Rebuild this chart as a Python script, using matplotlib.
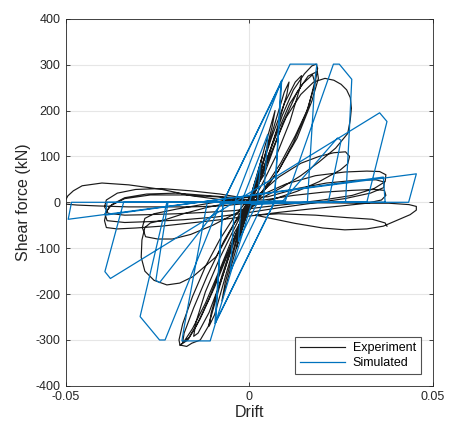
import matplotlib
matplotlib.use("Agg")
import matplotlib.pyplot as plt

plt.rcParams["font.family"] = ["Liberation Sans", "DejaVu Sans"]
plt.rcParams["axes.unicode_minus"] = False

# Experimental hysteresis, one list of (drift, shear force kN) points per cycle
exp_cycle_1 = [(0, 0), (0.0015, 45), (0.0035, 100), (0.0025, 60), (0.0005, 5),
               (-0.0015, -45), (-0.0035, -100), (-0.0025, -60), (-0.0005, -5)]
exp_cycle_2 = [(0.002, 55), (0.0045, 130), (0.007, 200), (0.0062, 165), (0.0035, 80),
               (0.0005, 0), (-0.0025, -70), (-0.005, -140), (-0.0075, -215),
               (-0.0066, -175), (-0.0035, -85), (-0.0005, -5)]
exp_cycle_3 = [(0.003, 70), (0.0065, 160), (0.0095, 240), (0.0108, 262), (0.0102, 235),
               (0.0075, 160), (0.004, 70), (0.001, 10), (-0.003, -65), (-0.0065, -160),
               (-0.0095, -245), (-0.011, -270), (-0.0104, -240), (-0.0075, -160),
               (-0.004, -75), (-0.001, -15)]
exp_cycle_3b = [(0.0025, 55), (0.006, 140), (0.0095, 215), (0.0125, 262), (0.0142, 276),
                (0.0138, 250), (0.011, 175), (0.0075, 105), (0.0035, 40), (0.0, -10),
                (-0.0035, -70), (-0.0075, -165), (-0.011, -240), (-0.014, -285),
                (-0.0152, -292), (-0.0146, -262), (-0.012, -195), (-0.008, -120),
                (-0.004, -55), (-0.0005, 0)]
exp_cycle_4 = [(0.002, 30), (0.0055, 110), (0.009, 190), (0.012, 245), (0.015, 280),
               (0.017, 297), (0.0182, 301), (0.0186, 292), (0.0178, 255), (0.0155, 195),
               (0.012, 130), (0.008, 70), (0.004, 25), (0.0, -10), (-0.004, -65),
               (-0.008, -145), (-0.012, -220), (-0.0155, -275), (-0.0178, -303),
               (-0.0189, -312), (-0.0192, -300), (-0.0182, -265), (-0.0155, -205),
               (-0.012, -140), (-0.008, -80), (-0.004, -30), (0.0, 10)]
exp_cycle_5 = [(0.004, 60), (0.009, 170), (0.013, 240), (0.016, 275), (0.0185, 285),
               (0.0188, 270), (0.017, 220), (0.013, 140), (0.008, 70), (0.003, 15),
               (-0.002, -40), (-0.007, -130), (-0.011, -210), (-0.0145, -270),
               (-0.0168, -300), (-0.0189, -311), (-0.0171, -314), (-0.0157, -307),
               (-0.0134, -300), (-0.0112, -270), (-0.008, -180), (-0.005, -100),
               (-0.002, -30)]
exp_cycle_5b = [(0.0035, 70), (0.0075, 150), (0.011, 215), (0.0145, 258), (0.0172, 278),
                (0.0178, 262), (0.016, 205), (0.0125, 145), (0.0085, 85), (0.004, 30),
                (0.0, -15), (-0.005, -95), (-0.0095, -185), (-0.0135, -255),
                (-0.0165, -295), (-0.0182, -305), (-0.0178, -285), (-0.0152, -230),
                (-0.0115, -160), (-0.007, -85), (-0.003, -30)]
exp_cycle_6 = [(0.002, 30), (0.006, 110), (0.010, 185), (0.014, 235), (0.0175, 262),
               (0.0206, 270), (0.023, 266), (0.025, 257), (0.0265, 245), (0.0275, 228),
               (0.0278, 205), (0.0275, 180), (0.0268, 150), (0.0235, 118), (0.019, 88),
               (0.014, 58), (0.009, 33), (0.004, 12), (0.0, -3), (-0.004, -45),
               (-0.009, -118), (-0.0154, -162), (-0.019, -176), (-0.0225, -180),
               (-0.026, -170), (-0.0285, -150), (-0.0295, -120), (-0.0293, -82),
               (-0.0285, -55), (-0.027, -45), (-0.023, -38), (-0.018, -25),
               (-0.012, -12), (-0.006, -2), (-0.002, 10)]
exp_cycle_7 = [(0.003, 20), (0.008, 55), (0.014, 85), (0.019, 100), (0.023, 108),
               (0.0262, 110), (0.0273, 100), (0.0268, 84), (0.0247, 70), (0.019, 45),
               (0.013, 24), (0.007, 8), (0.002, -5), (-0.004, -25), (-0.010, -50),
               (-0.016, -70), (-0.021, -80), (-0.025, -80), (-0.0283, -75),
               (-0.0292, -55), (-0.0285, -35), (-0.026, -25), (-0.02, -15),
               (-0.013, -5), (-0.006, 5)]
exp_cycle_8 = [(0.003, 15), (0.010, 40), (0.018, 58), (0.026, 66), (0.032, 68),
               (0.0355, 67), (0.0372, 60), (0.037, 45), (0.034, 30), (0.028, 15),
               (0.020, 5), (0.012, -3), (0.004, -10), (-0.004, -18), (-0.012, -22),
               (-0.020, -25), (-0.028, -27), (-0.034, -28), (-0.0385, -24),
               (-0.0395, -10), (-0.039, 5), (-0.036, 20), (-0.031, 28), (-0.024, 30),
               (-0.016, 25), (-0.008, 18), (-0.002, 10)]
exp_cycle_8b = [(0.005, 12), (0.013, 30), (0.021, 42), (0.029, 48), (0.0345, 49),
                (0.0368, 44), (0.0366, 32), (0.033, 20), (0.026, 8), (0.017, -2),
                (0.008, -12), (0.0, -22), (-0.009, -32), (-0.018, -38),
                (-0.027, -42), (-0.034, -44), (-0.0388, -40), (-0.0394, -25),
                (-0.038, -8), (-0.034, 8), (-0.027, 16), (-0.018, 16), (-0.009, 12),
                (-0.002, 6)]
exp_cycle_9 = [(0.004, 5), (0.012, 15), (0.020, 22), (0.028, 26), (0.034, 28),
               (0.0368, 26), (0.0372, 15), (0.036, 5), (0.032, -2), (0.025, -8),
               (0.016, -15), (0.008, -22), (0.0, -30), (-0.008, -38), (-0.016, -45),
               (-0.024, -52), (-0.031, -56), (-0.036, -58), (-0.039, -55),
               (-0.0395, -40), (-0.039, -20), (-0.0375, -5), (-0.034, 10),
               (-0.028, 18), (-0.020, 20), (-0.012, 15), (-0.004, 10)]
exp_cycle_10 = [(0.0, -2), (-0.008, -8), (-0.016, -10), (-0.025, -10), (-0.033, -10),
                (-0.041, -8), (-0.047, -6), (-0.0500, -4), (-0.0503, 2), (-0.0495, 14),
                (-0.048, 25), (-0.0456, 36), (-0.0402, 42), (-0.0329, 38),
                (-0.0238, 28), (-0.0156, 14), (-0.008, 6), (0.0, 2), (0.01, 0),
                (0.02, -1), (0.03, -2), (0.038, -2), (0.0435, -5), (0.0455, -9),
                (0.0455, -17), (0.0438, -27), (0.040, -40), (0.0365, -52),
                (0.032, -58), (0.026, -60), (0.020, -56), (0.0125, -46),
                (0.0016, -28), (0.008, -25), (0.018, -28), (0.026, -33),
                (0.0335, -37), (0.037, -45), (0.0375, -52)]

exp_cycles = [exp_cycle_1, exp_cycle_2, exp_cycle_3, exp_cycle_3b, exp_cycle_4,
              exp_cycle_5, exp_cycle_5b, exp_cycle_6, exp_cycle_7, exp_cycle_8,
              exp_cycle_8b, exp_cycle_9, exp_cycle_10]

# Simulated response: corner points of the piecewise-linear model
sim_drift = [0, 0.0030, 0.0022, -0.0030, -0.0022,
             0.0050, 0.0038, -0.0052, -0.0040,
             0.0088, 0.0068, -0.0094, -0.0072,
             0.0086, 0.0068, -0.0092, -0.0072,
             0.0111, 0.0184, 0.0179, 0.0158,
             0.0005, -0.0107, -0.0184, -0.0178, -0.0115,
             0.0098, 0.0229, 0.0245, 0.0279, 0.0272, 0.0262,
             -0.0080, -0.0230, -0.0245, -0.0298, -0.0225,
             0.0090, 0.0240, 0.0250, 0.0215,
             -0.0075, -0.0245, -0.0255, -0.0222,
             -0.0343, -0.0394, -0.0379,
             0.0355, 0.0375, 0.0320,
             -0.0388, -0.0393, 0.0365, 0.0370,
             -0.0485, -0.0494, 0.0455, 0.0434, 0.0229]
sim_force = [0, 85, 0, -85, 0,
             148, 0, -150, 0,
             266, 0, -264, 0,
             262, 0, -262, 0,
             301, 301, 270, 0,
             -5, -302, -302, -272, 0,
             3, 301, 301, 268, 150, 0,
             -3, -300, -300, -249, 0,
             2, 140, 135, 0,
             -2, -175, -170, 0,
             0, -151, -166,
             195, 176, 0,
             0, -28, 55, 0,
             0, -37, 62, 0, 0]

x_ticks = [-0.05, 0, 0.05]
x_tick_labels = ["-0.05", "0", "0.05"]
y_ticks = [-400, -300, -200, -100, 0, 100, 200, 300, 400]

fig = plt.figure(figsize=(4.49, 4.25), dpi=100)
ax = fig.add_axes([0.147, 0.092, 0.817, 0.864])

exp_d = [p[0] for cyc in exp_cycles for p in cyc]
exp_f = [p[1] for cyc in exp_cycles for p in cyc]
ax.plot(exp_d, exp_f, color="#1a1a1a", lw=0.85, label="Experiment", zorder=3)
ax.plot(sim_drift, sim_force, color="#0072BD", lw=0.9, label="Simulated", zorder=4)

ax.set_xlim(-0.05, 0.05)
ax.set_ylim(-400, 400)
ax.set_xticks(x_ticks)
ax.set_xticklabels(x_tick_labels)
ax.set_yticks(y_ticks)
ax.grid(True, color="#e6e6e6", lw=0.8, zorder=0)
ax.set_axisbelow(True)
ax.tick_params(direction="in", length=3, width=0.6, colors="#262626",
               labelsize=9, top=True, right=True, pad=4)
for s in ax.spines.values():
    s.set_color("#262626")
    s.set_linewidth(0.6)

ax.set_xlabel("Drift", fontsize=11.5, color="#262626", labelpad=1)
ax.set_ylabel("Shear force (kN)", fontsize=11.5, color="#262626", labelpad=3)

leg = ax.legend(loc="lower right", fontsize=9, frameon=True, fancybox=False,
                edgecolor="#262626", handlelength=3.6, borderpad=0.4,
                labelspacing=0.25, handletextpad=0.6, bbox_to_anchor=(0.985, 0.015))
leg.get_frame().set_linewidth(0.8)

fig.savefig("out.png", dpi=100)
